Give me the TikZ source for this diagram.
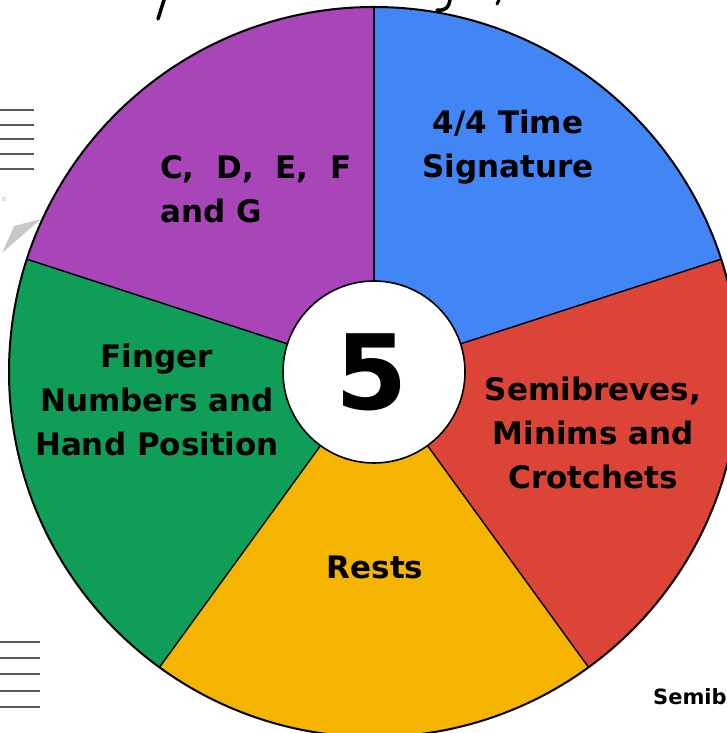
\documentclass[tikz,border=0pt]{standalone}
\usepackage{fontspec}
\setmainfont{DejaVu Sans}
\begin{document}
\begin{tikzpicture}[x=1pt,y=1pt,
  seglabel/.style={font=\fontsize{31}{44}\selectfont\bfseries, text=black, align=center, inner sep=0pt},
  divider/.style={draw=black, line width=1.4pt},
  ruled/.style={draw=black!65, line width=1.4pt},
]
\definecolor{segpurple}{HTML}{A845B8}
\definecolor{segblue}{HTML}{4285F4}
\definecolor{segred}{HTML}{DB4437}
\definecolor{segyellow}{HTML}{F4B400}
\definecolor{seggreen}{HTML}{0F9D58}
\definecolor{arrowgray}{HTML}{C8C8C8}
\definecolor{fadedred}{HTML}{E8A0A0}

\useasboundingbox (0,0) rectangle (727,733);

% wheel centre and radii
\coordinate (c) at (374,361);
\def\outerR{365}
\def\innerR{91}

% five equal sectors
\fill[segblue]   (c) -- ++(18:\outerR)  arc[start angle=18,  end angle=90,  radius=\outerR] -- cycle;
\fill[segpurple] (c) -- ++(90:\outerR)  arc[start angle=90,  end angle=162, radius=\outerR] -- cycle;
\fill[seggreen]  (c) -- ++(162:\outerR) arc[start angle=162, end angle=234, radius=\outerR] -- cycle;
\fill[segyellow] (c) -- ++(234:\outerR) arc[start angle=234, end angle=306, radius=\outerR] -- cycle;
\fill[segred]    (c) -- ++(306:\outerR) arc[start angle=306, end angle=378, radius=\outerR] -- cycle;

% sector borders
\foreach \a in {18,90,162,234,306}
  \draw[divider] (c) -- ++(\a:\outerR);
\draw[black, line width=2pt] (c) circle[radius=\outerR];

% centre disc
\node[circle, fill=white, draw=black, line width=1.6pt, minimum size=2*\innerR pt, inner sep=0pt] (hub) at (c) {};
\node[font=\fontsize{104}{104}\selectfont\bfseries, inner sep=0pt] (num) at (372,361) {5};

% sector labels
\node[seglabel] (time) at (508,586) {4/4 Time\\Signature};
\node[seglabel, align=left, anchor=west] (notes) at (160,544) {C,\hspace{0.7em}D,\hspace{0.7em}E,\hspace{0.7em}F\\and G};
\node[seglabel] (finger) at (157,333) {Finger\\Numbers and\\Hand Position};
\node[seglabel] (values) at (593,300) {Semibreves,\\Minims and\\Crotchets};
\node[seglabel] (rests) at (375,166) {Rests};

% ruled lines at the left edge
\foreach \y in {110,125,139,154,169}
  \draw[ruled] (0,733-\y) -- (34,733-\y);
\foreach \y in {642,658,674,691,707}
  \draw[ruled] (0,733-\y) -- (40,733-\y);

% grey pointer and faded label at the left
\fill[arrowgray] (41,514) -- (14,507) -- (8,493) -- (2,480) -- cycle;
\node[font=\fontsize{7}{7}\selectfont, text=fadedred, inner sep=0pt] (faded) at (4,533) {e};

% descenders of the heading above
\draw[black, line width=3.5pt, line cap=round] (164,733) -- (158,714);
\draw[black, line width=3.5pt, line cap=round] (450,733) .. controls (449,726) and (446,722) .. (437,723);
\draw[black, line width=3pt, line cap=round] (499,733) -- (497,729);

% caption at bottom right
\node[font=\fontsize{21}{21}\selectfont\bfseries, anchor=west, inner sep=0pt] (caption) at (653,36) {Semib};
\end{tikzpicture}
\end{document}
